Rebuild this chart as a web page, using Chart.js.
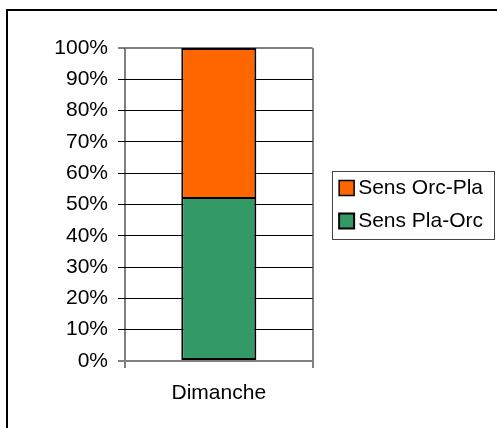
<!DOCTYPE html>
<html>
<head>
<meta charset="utf-8">
<script src="https://cdn.jsdelivr.net/npm/chart.js@4/dist/chart.umd.min.js"></script>
<style>
  html, body { margin: 0; padding: 0; background: #fff; }
  canvas { display: block; }
</style>
</head>
<body>
<canvas id="chart" width="497" height="428"></canvas>
<script>
const categories = ['Dimanche'];
const plaOrc = [52.4];   // Sens Pla-Orc (bottom, green)
const orcPla = [47.6];   // Sens Orc-Pla (top, orange)
const yTicks = [0, 10, 20, 30, 40, 50, 60, 70, 80, 90, 100];

const FONT = { family: 'Liberation Sans, Arial, sans-serif', size: 21 };

// outer frame (only top and left edges are visible in the picture)
const outerFrame = {
    id: 'outerFrame',
    afterDraw(chart) {
        const ctx = chart.ctx;
        ctx.save();
        ctx.strokeStyle = '#000';
        ctx.lineWidth = 2;
        ctx.beginPath();
        ctx.moveTo(7, 440);
        ctx.lineTo(7, 10);
        ctx.lineTo(510, 10);
        ctx.stroke();
        ctx.restore();
    }
};

// box round the legend
const legendFrame = {
    id: 'legendFrame',
    afterDraw(chart) {
        const boxes = chart.legend && chart.legend.legendHitBoxes;
        if (!boxes || !boxes.length) return;
        const first = boxes[0], last = boxes[boxes.length - 1];
        const left = first.left - 13.5;
        const top = first.top - 7;
        const right = Math.max(...boxes.map(b => b.left + b.width)) + 11;
        const bottom = last.top + last.height + 7;
        const ctx = chart.ctx;
        ctx.save();
        ctx.strokeStyle = '#444';
        ctx.lineWidth = 1;
        ctx.strokeRect(Math.round(left) + 0.5, Math.round(top) + 0.5,
            Math.round(right - left), Math.round(bottom - top));
        ctx.restore();
    }
};

new Chart(document.getElementById('chart'), {
    type: 'bar',
    data: {
        labels: categories,
        datasets: [
            {
                label: 'Sens Pla-Orc',
                data: plaOrc,
                backgroundColor: '#339966',
                borderColor: '#000',
                borderWidth: 2,
                borderSkipped: false,
                barPercentage: 0.4,
                categoryPercentage: 1
            },
            {
                label: 'Sens Orc-Pla',
                data: orcPla,
                backgroundColor: '#FF6600',
                borderColor: '#000',
                borderWidth: { top: 2, left: 2, right: 2, bottom: 0 },
                borderSkipped: false,
                barPercentage: 0.4,
                categoryPercentage: 1
            }
        ]
    },
    options: {
        responsive: false,
        animation: false,
        layout: { padding: { left: 10, top: 48, right: 4, bottom: 0 } },
        scales: {
            x: {
                stacked: true,
                grid: {
                    offset: true,
                    color: '#808080',
                    lineWidth: 2,
                    tickColor: '#000',
                    tickWidth: 1,
                    tickLength: 7
                },
                border: { color: '#808080', width: 2 },
                ticks: { color: '#000', font: FONT, padding: 13 },
                afterFit(scale) { scale.height = 67; }
            },
            y: {
                stacked: true,
                min: 0,
                max: 100,
                afterBuildTicks(scale) {
                    scale.ticks = yTicks.map(v => ({ value: v }));
                },
                grid: {
                    color: c => (c.tick && (c.tick.value === 0 || c.tick.value === 100)) ? '#808080' : '#000',
                    lineWidth: c => (c.tick && (c.tick.value === 0 || c.tick.value === 100)) ? 2 : 1,
                    tickColor: '#000',
                    tickWidth: 1,
                    tickLength: 7
                },
                border: { display: false },
                ticks: {
                    color: '#000',
                    font: FONT,
                    padding: 10,
                    callback: v => v + '%'
                },
                afterFit(scale) { scale.width = 115; }
            },
            gap: {
                type: 'linear',
                position: 'right',
                display: true,
                grid: { display: false },
                ticks: { display: false },
                border: { display: false },
                afterFit(scale) { scale.width = 21; }
            }
        },
        plugins: {
            legend: {
                position: 'right',
                fullSize: false,
                reverse: true,
                maxWidth: 175,
                labels: {
                    color: '#000',
                    font: FONT,
                    usePointStyle: true,
                    pointStyle: 'rect',
                    boxWidth: 2,
                    boxHeight: 15,
                    padding: 12
                }
            },
            tooltip: { enabled: false }
        }
    },
    plugins: [outerFrame, legendFrame]
});
</script>
</body>
</html>
